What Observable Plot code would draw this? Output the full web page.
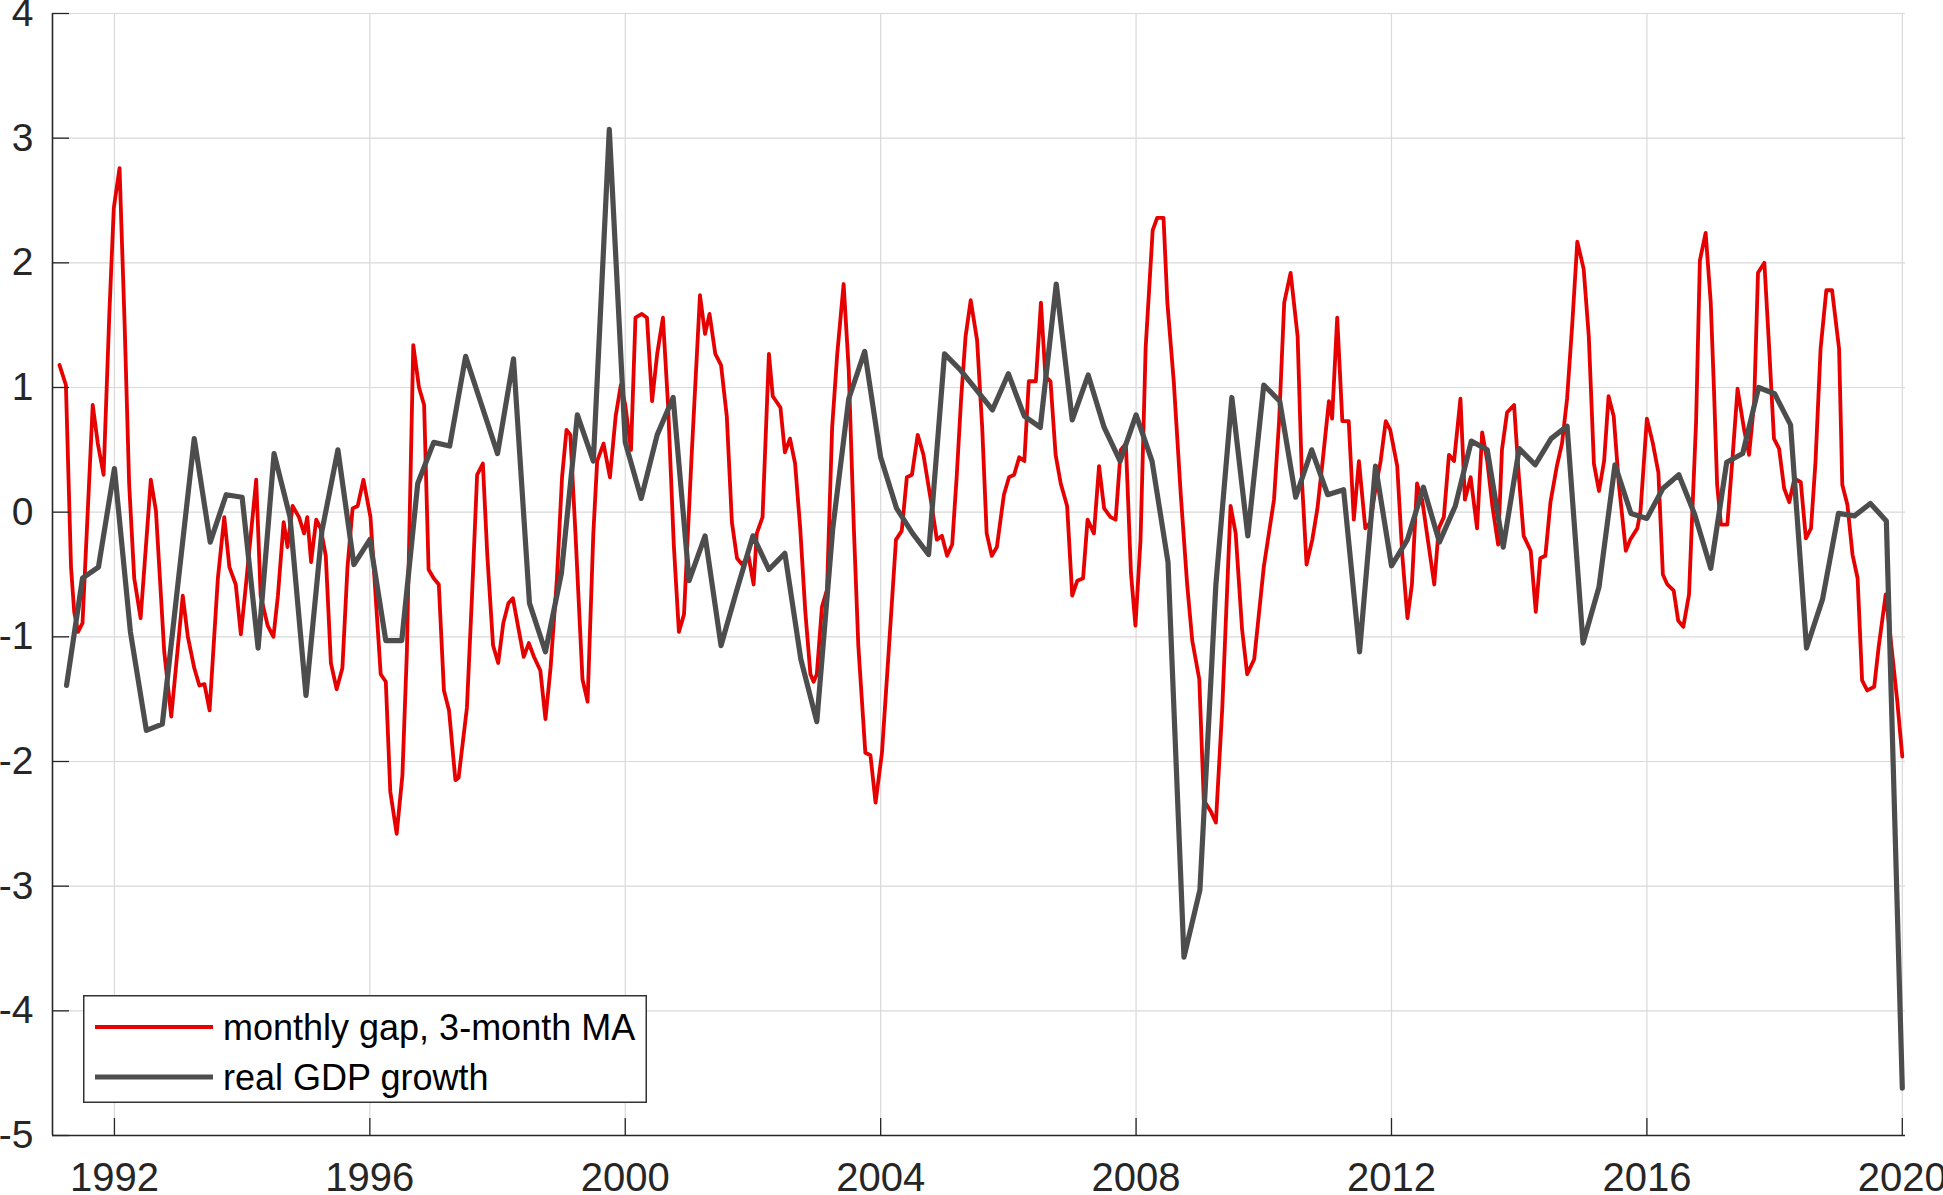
<!DOCTYPE html>
<html><head><meta charset="utf-8">
<script src="https://cdn.jsdelivr.net/npm/d3@7"></script>
<script src="https://cdn.jsdelivr.net/npm/@observablehq/plot@0.6"></script>
<style>
html,body{margin:0;padding:0;background:#fff;overflow:hidden;}
#wrap{position:relative;width:1943px;height:1195px;}
</style></head><body><div id="wrap"></div>
<script>
// Monthly gap, 3-month MA: [decimal year, value]
const gapPoints = [
[1991.14,1.18],[1991.24,1.02],[1991.32,-0.44],[1991.37,-0.80],[1991.43,-0.96],[1991.50,-0.89],[1991.66,0.86],[1991.74,0.55],[1991.83,0.30],[1991.92,1.59],[1991.99,2.44],[1992.08,2.76],[1992.16,1.50],[1992.23,0.23],[1992.31,-0.53],[1992.41,-0.85],[1992.57,0.26],[1992.65,0.01],[1992.78,-1.12],[1992.89,-1.64],
[1993.07,-0.67],[1993.15,-1.00],[1993.25,-1.25],[1993.33,-1.39],[1993.41,-1.38],[1993.49,-1.59],[1993.62,-0.53],[1993.72,-0.04],[1993.80,-0.44],[1993.90,-0.58],[1993.98,-0.98],[1994.06,-0.58],[1994.22,0.26],[1994.29,-0.67],[1994.40,-0.91],[1994.49,-1.00],[1994.56,-0.67],[1994.65,-0.08],[1994.71,-0.28],[1994.79,0.05],[1994.89,-0.04],[1994.97,-0.17],
[1995.02,-0.04],[1995.08,-0.40],[1995.16,-0.06],[1995.23,-0.13],[1995.31,-0.35],[1995.39,-1.21],[1995.48,-1.42],[1995.57,-1.25],[1995.65,-0.44],[1995.73,0.03],[1995.81,0.05],[1995.90,0.26],[1996.01,-0.04],[1996.17,-1.30],[1996.25,-1.36],[1996.32,-2.24],[1996.42,-2.58],[1996.51,-2.11],[1996.58,-1.12],[1996.68,1.34],[1996.77,1.00],[1996.85,0.86],[1996.92,-0.46],
[1997.00,-0.53],[1997.08,-0.58],[1997.16,-1.43],[1997.24,-1.59],[1997.34,-2.15],[1997.39,-2.13],[1997.52,-1.57],[1997.60,-0.67],[1997.68,0.30],[1997.77,0.39],[1997.84,-0.35],[1997.93,-1.07],[1998.01,-1.21],[1998.09,-0.89],[1998.17,-0.73],[1998.24,-0.69],[1998.33,-0.94],[1998.41,-1.16],[1998.49,-1.05],[1998.57,-1.16],[1998.67,-1.27],[1998.75,-1.66],[1998.83,-1.25],[1998.93,-0.53],
[1999.01,0.28],[1999.08,0.66],[1999.14,0.62],[1999.22,-0.17],[1999.33,-1.34],[1999.41,-1.52],[1999.50,-0.17],[1999.56,0.41],[1999.66,0.55],[1999.76,0.28],[1999.85,0.77],[1999.93,1.02],[2000.00,0.86],[2000.09,0.50],[2000.16,1.56],[2000.26,1.59],[2000.34,1.56],[2000.42,0.89],[2000.50,1.27],[2000.59,1.56],[2000.67,0.86],[2000.76,-0.26],[2000.84,-0.96],[2000.92,-0.82],
[2001.04,0.46],[2001.10,1.05],[2001.17,1.74],[2001.25,1.43],[2001.32,1.59],[2001.41,1.27],[2001.50,1.18],[2001.59,0.77],[2001.67,-0.08],[2001.75,-0.37],[2001.83,-0.42],[2001.93,-0.35],[2002.01,-0.58],[2002.06,-0.17],[2002.15,-0.04],[2002.25,1.27],[2002.31,0.93],[2002.43,0.84],[2002.50,0.48],[2002.58,0.59],[2002.66,0.39],[2002.74,-0.13],[2002.82,-0.80],[2002.90,-1.30],[2002.95,-1.36],
[2003.00,-1.30],[2003.08,-0.76],[2003.16,-0.62],[2003.24,0.68],[2003.32,1.27],[2003.42,1.83],[2003.50,1.14],[2003.58,-0.13],[2003.65,-1.07],[2003.76,-1.93],[2003.84,-1.95],[2003.92,-2.33],[2004.02,-1.93],[2004.12,-1.16],[2004.24,-0.22],[2004.33,-0.15],[2004.41,0.28],[2004.49,0.30],[2004.58,0.62],[2004.67,0.46],[2004.80,0.05],[2004.88,-0.22],[2004.96,-0.19],
[2005.04,-0.35],[2005.12,-0.26],[2005.19,0.28],[2005.26,0.91],[2005.33,1.41],[2005.41,1.70],[2005.51,1.38],[2005.59,0.68],[2005.66,-0.17],[2005.74,-0.35],[2005.82,-0.28],[2005.93,0.14],[2006.01,0.28],[2006.09,0.30],[2006.17,0.44],[2006.25,0.41],[2006.32,1.05],[2006.43,1.05],[2006.51,1.68],[2006.58,1.09],[2006.66,1.05],[2006.74,0.46],[2006.82,0.23],[2006.92,0.05],
[2007.00,-0.67],[2007.08,-0.55],[2007.17,-0.53],[2007.24,-0.06],[2007.34,-0.17],[2007.42,0.37],[2007.50,0.03],[2007.60,-0.04],[2007.68,-0.06],[2007.76,0.50],[2007.84,0.55],[2007.92,-0.49],[2007.99,-0.91],[2008.07,-0.22],[2008.15,1.32],[2008.26,2.26],[2008.33,2.36],[2008.43,2.36],[2008.49,1.68],[2008.59,1.05],[2008.70,0.14],[2008.80,-0.58],[2008.88,-1.03],[2008.99,-1.34],
[2009.06,-2.31],[2009.17,-2.40],[2009.25,-2.49],[2009.35,-1.57],[2009.48,0.05],[2009.56,-0.17],[2009.66,-0.94],[2009.74,-1.30],[2009.85,-1.18],[2010.00,-0.44],[2010.16,0.10],[2010.24,0.73],[2010.32,1.68],[2010.42,1.92],[2010.53,1.41],[2010.60,0.23],[2010.67,-0.42],[2010.76,-0.22],[2010.84,0.03],[2010.92,0.40],
[2011.02,0.89],[2011.07,0.75],[2011.15,1.56],[2011.23,0.73],[2011.33,0.73],[2011.41,-0.06],[2011.49,0.41],[2011.59,-0.13],[2011.67,-0.08],[2011.75,0.19],[2011.83,0.41],[2011.91,0.73],[2011.98,0.66],[2012.09,0.37],[2012.17,-0.35],[2012.25,-0.85],[2012.32,-0.58],[2012.40,0.23],[2012.48,0.10],[2012.58,-0.26],[2012.67,-0.58],[2012.74,-0.13],[2012.82,-0.04],[2012.90,0.46],[2012.98,0.41],
[2013.08,0.91],[2013.15,0.10],[2013.24,0.28],[2013.34,-0.13],[2013.42,0.64],[2013.50,0.41],[2013.58,0.05],[2013.67,-0.26],[2013.73,0.50],[2013.81,0.80],[2013.92,0.86],[2013.99,0.32],[2014.07,-0.19],[2014.18,-0.31],[2014.26,-0.80],[2014.33,-0.37],[2014.41,-0.35],[2014.49,0.08],[2014.59,0.37],[2014.67,0.55],[2014.75,0.91],[2014.83,1.50],[2014.91,2.17],
[2015.01,1.95],[2015.09,1.41],[2015.17,0.39],[2015.25,0.17],[2015.33,0.41],[2015.40,0.93],[2015.48,0.77],[2015.56,0.23],[2015.67,-0.31],[2015.74,-0.22],[2015.85,-0.13],[2015.90,0.01],[2016.00,0.75],[2016.09,0.56],[2016.18,0.32],[2016.25,-0.50],[2016.32,-0.58],[2016.42,-0.63],[2016.49,-0.87],[2016.57,-0.92],[2016.66,-0.66],[2016.71,-0.02],[2016.77,0.72],[2016.83,2.02],[2016.92,2.24],
[2017.00,1.68],[2017.05,0.99],[2017.10,0.22],[2017.16,-0.10],[2017.26,-0.10],[2017.34,0.43],[2017.42,0.99],[2017.52,0.67],[2017.60,0.46],[2017.68,0.88],[2017.74,1.92],[2017.84,2.00],[2017.91,1.36],[2017.99,0.59],[2018.07,0.51],[2018.15,0.19],[2018.23,0.08],[2018.31,0.27],[2018.41,0.24],[2018.49,-0.21],[2018.57,-0.13],[2018.64,0.40],[2018.72,1.31],[2018.81,1.78],[2018.90,1.78],
[2019.01,1.31],[2019.06,0.22],[2019.14,0.06],[2019.22,-0.34],[2019.30,-0.53],[2019.37,-1.35],[2019.45,-1.43],[2019.56,-1.40],[2019.63,-1.08],[2019.74,-0.66],[2019.82,-1.03],[2019.92,-1.51],[2020.00,-1.96]
];

// Real GDP growth, quarterly, first quarter shown: 1991 Q2
const gdpFirstQuarter = 1991.25;
const gdpValues = [
-1.39,-0.53,-0.44,
0.35,-0.96,-1.75,-1.70,
-0.55,0.59,-0.24,0.14,
0.12,-1.09,0.47,-0.04,
-1.47,-0.15,0.50,-0.42,
-0.22,-1.03,-1.03,0.23,
0.56,0.53,1.25,0.86,
0.47,1.23,-0.73,-1.12,
-0.49,0.78,0.41,3.07,
0.56,0.11,0.62,0.92,
-0.55,-0.19,-1.07,-0.62,
-0.19,-0.46,-0.33,-1.18,
-1.68,-0.13,0.91,1.29,
0.44,0.03,-0.17,-0.34,
1.27,1.14,0.98,0.82,
1.11,0.77,0.68,1.83,
0.74,1.10,0.68,0.41,
0.78,0.41,-0.40,-3.57,
-3.03,-0.58,0.92,-0.19,
1.02,0.89,0.12,0.50,
0.14,0.18,-1.12,0.37,
-0.43,-0.22,0.20,-0.24,
0.05,0.57,0.50,-0.28,
0.51,0.38,0.59,0.69,
-1.05,-0.60,0.38,-0.01,
-0.05,0.19,0.30,-0.02,
-0.45,0.40,0.47,1.00,
0.95,0.70,-1.09,-0.70,
-0.01,-0.03,0.07,-0.07,
-4.62
];

const xDomain = [1991.03, 2020.05];
const yDomain = [-5, 4];
const xTicks = [1992, 1996, 2000, 2004, 2008, 2012, 2016, 2020];
const yTicks = [-5, -4, -3, -2, -1, 0, 1, 2, 3, 4];
const seriesNames = ["monthly gap, 3-month MA", "real GDP growth"];
const seriesColors = ["#e60000", "#4d4d4d"];
const seriesWidths = [3.8, 5.2];

const gap = gapPoints.map(([t, v]) => ({t, v}));
const gdp = gdpValues.map((v, i) => ({t: gdpFirstQuarter + i / 4, v}));

const font = '"Liberation Sans", Arial, Helvetica, sans-serif';
const axisColor = "#262626";

const chart = Plot.plot({
  width: 1943,
  height: 1195,
  marginLeft: 52,
  marginRight: 38,
  marginTop: 13,
  marginBottom: 60,
  style: {fontFamily: font, background: "#fff", color: axisColor},
  x: {domain: xDomain},
  y: {domain: yDomain},
  marks: [
    Plot.gridX(xTicks, {stroke: "#d9d9d9", strokeOpacity: 1, strokeWidth: 1.2}),
    Plot.gridY(yTicks, {stroke: "#d9d9d9", strokeOpacity: 1, strokeWidth: 1.2}),
    Plot.lineY(gap, {x: "t", y: "v", stroke: seriesColors[0], strokeWidth: seriesWidths[0], strokeLinejoin: "round"}),
    Plot.lineY(gdp, {x: "t", y: "v", stroke: seriesColors[1], strokeWidth: seriesWidths[1], strokeLinejoin: "round"}),
    Plot.ruleY([yDomain[0]], {stroke: axisColor, strokeWidth: 1.6}),
    Plot.ruleX([xDomain[0]], {stroke: axisColor, strokeWidth: 1.6}),
    Plot.axisX(xTicks, {tickSize: -17, tickPadding: 44, fontSize: 40, tickFormat: d => String(d), stroke: axisColor, strokeWidth: 1.3, fill: axisColor, label: null}),
    Plot.axisY(yTicks, {tickSize: -17, tickPadding: 36, fontSize: 39, tickFormat: d => String(d), stroke: axisColor, strokeWidth: 1.3, fill: axisColor, label: null})
  ]
});

const wrap = document.getElementById("wrap");
wrap.appendChild(chart);

// Legend drawn inside the axes area
const ns = "http://www.w3.org/2000/svg";
const leg = document.createElementNS(ns, "svg");
leg.setAttribute("width", 564);
leg.setAttribute("height", 108);
leg.style.position = "absolute";
leg.style.left = "83px";
leg.style.top = "995px";
const box = document.createElementNS(ns, "rect");
box.setAttribute("x", 0.75); box.setAttribute("y", 0.75);
box.setAttribute("width", 562.5); box.setAttribute("height", 106.5);
box.setAttribute("fill", "#fff"); box.setAttribute("stroke", "#333"); box.setAttribute("stroke-width", 1.5);
leg.appendChild(box);
seriesNames.forEach((name, i) => {
  const cy = 32 + i * 50;
  const ln = document.createElementNS(ns, "line");
  ln.setAttribute("x1", 12); ln.setAttribute("x2", 130);
  ln.setAttribute("y1", cy); ln.setAttribute("y2", cy);
  ln.setAttribute("stroke", seriesColors[i]); ln.setAttribute("stroke-width", seriesWidths[i]);
  leg.appendChild(ln);
  const tx = document.createElementNS(ns, "text");
  tx.setAttribute("x", 140); tx.setAttribute("y", cy);
  tx.setAttribute("dy", "0.35em");
  tx.setAttribute("font-family", font);
  tx.setAttribute("font-size", 36);
  tx.setAttribute("fill", "#000");
  tx.textContent = name;
  leg.appendChild(tx);
});
wrap.appendChild(leg);
</script>
</body></html>
